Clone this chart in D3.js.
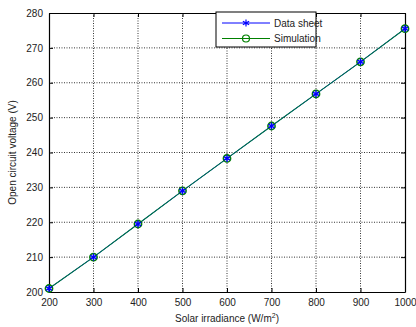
<!DOCTYPE html>
<html>
<head>
<meta charset="utf-8">
<script src="https://cdnjs.cloudflare.com/ajax/libs/d3/7.8.5/d3.min.js"></script>
<style>
  body { margin: 0; background: #fff; }
  svg text { font-family: "Liberation Sans", Arial, sans-serif; }
</style>
</head>
<body>
<div id="chart"></div>
<script>
// data
var irradiance = [200, 300, 400, 500, 600, 700, 800, 900, 1000];
var dataSheet = [201, 210, 219.5, 229, 238.3, 247.6, 256.8, 266, 275.5];
var simulation = [201, 210, 219.5, 229, 238.3, 247.6, 256.8, 266, 275.5];
var xTicks = [200, 300, 400, 500, 600, 700, 800, 900, 1000];
var yTicks = [200, 210, 220, 230, 240, 250, 260, 270, 280];

var margin = {top: 13, right: 11, bottom: 35, left: 49},
    width = 416 - margin.left - margin.right,
    height = 327 - margin.top - margin.bottom;

var svg = d3.select("#chart").append("svg")
    .attr("width", 416)
    .attr("height", 327)
    .append("g")
    .attr("transform", "translate(" + margin.left + "," + margin.top + ")");

var x = d3.scaleLinear().domain([200, 1000]).range([0, width]);
var y = d3.scaleLinear().domain([200, 280]).range([height, 0]);

// grid
svg.append("g").selectAll("line.vg")
    .data(xTicks.slice(1, -1))
    .enter().append("line")
    .attr("x1", d => x(d)).attr("x2", d => x(d))
    .attr("y1", 0).attr("y2", height)
    .style("stroke", "#000").style("stroke-width", 0.8)
    .style("stroke-dasharray", "1,1.5");
svg.append("g").selectAll("line.hg")
    .data(yTicks.slice(1, -1))
    .enter().append("line")
    .attr("y1", d => y(d)).attr("y2", d => y(d))
    .attr("x1", 0).attr("x2", width)
    .style("stroke", "#000").style("stroke-width", 0.8)
    .style("stroke-dasharray", "1,1.5");

// axes (ticks inward)
var fmt = d3.format("d");
svg.append("g")
    .attr("transform", "translate(0," + height + ")")
    .call(d3.axisBottom(x).tickValues(xTicks).tickFormat(fmt).tickSizeInner(-4).tickSizeOuter(0).tickPadding(7));
svg.append("g")
    .call(d3.axisLeft(y).tickValues(yTicks).tickFormat(fmt).tickSizeInner(-4).tickSizeOuter(0).tickPadding(6));
svg.append("g")
    .call(d3.axisTop(x).tickValues(xTicks).tickSizeInner(-4).tickSizeOuter(0).tickFormat(""));
svg.append("g")
    .attr("transform", "translate(" + width + ",0)")
    .call(d3.axisRight(y).tickValues(yTicks).tickSizeInner(-4).tickSizeOuter(0).tickFormat(""));

svg.selectAll(".domain").style("stroke", "#000").style("stroke-width", 1.2);
svg.selectAll(".tick line").style("stroke", "#000");
svg.selectAll(".tick text").style("font-size", "10px").style("fill", "#222");

// lines
var pts1 = irradiance.map((v, i) => ({x: v, y: dataSheet[i]}));
var pts2 = irradiance.map((v, i) => ({x: v, y: simulation[i]}));
var line = d3.line().x(d => x(d.x)).y(d => y(d.y));

svg.append("path").datum(pts1).attr("d", line)
    .style("fill", "none").style("stroke", "#0000ff").style("stroke-width", 1);
svg.append("path").datum(pts2).attr("d", line)
    .style("fill", "none").style("stroke", "#007a40").style("stroke-width", 1.1);

var star = d3.symbol().type(d3.symbolAsterisk).size(36);
svg.selectAll(".circ").data(pts2).enter().append("circle")
    .attr("cx", d => x(d.x)).attr("cy", d => y(d.y)).attr("r", 3.6)
    .style("fill", "none").style("stroke", "#008000").style("stroke-width", 1.6);
svg.selectAll(".star").data(pts1).enter().append("path")
    .attr("d", star)
    .attr("transform", d => "translate(" + x(d.x) + "," + y(d.y) + ")")
    .style("fill", "none").style("stroke", "#0000ff").style("stroke-width", 1.4);

// axis labels
svg.append("text")
    .attr("x", width / 2)
    .attr("y", height + 30)
    .style("text-anchor", "middle")
    .style("font-size", "10px")
    .style("fill", "#222")
    .html('Solar irradiance (W/m<tspan dy="-4" font-size="7px">2</tspan><tspan dy="4">)</tspan>');

svg.append("text")
    .attr("transform", "rotate(-90)")
    .attr("x", -height / 2)
    .attr("y", -33)
    .style("text-anchor", "middle")
    .style("font-size", "10px")
    .style("fill", "#222")
    .text("Open circuit voltage (V)");

// legend
var legend = svg.append("g").attr("transform", "translate(" + (216 - margin.left) + "," + (12 - margin.top) + ")");
legend.append("rect")
    .attr("width", 100).attr("height", 35)
    .style("fill", "#fff").style("stroke", "#000").style("stroke-width", 1);
var legendItems = [
    {name: "Data sheet", color: "#0000ff", marker: "star"},
    {name: "Simulation", color: "#008000", marker: "circle"}
];
legendItems.forEach(function (d, i) {
    var yy = 11 + i * 15.5;
    legend.append("line")
        .attr("x1", 6).attr("x2", 54).attr("y1", yy).attr("y2", yy)
        .style("stroke", d.color).style("stroke-width", 1);
    if (d.marker === "star") {
        legend.append("path").attr("d", star)
            .attr("transform", "translate(30," + yy + ")")
            .style("fill", "none").style("stroke", d.color).style("stroke-width", 1.2);
    } else {
        legend.append("circle").attr("cx", 30).attr("cy", yy).attr("r", 3.5)
            .style("fill", "none").style("stroke", d.color).style("stroke-width", 1.2);
    }
    legend.append("text")
        .attr("x", 58).attr("y", yy + 3.5)
        .style("font-size", "10px").style("fill", "#222")
        .text(d.name);
});
</script>
</body>
</html>
